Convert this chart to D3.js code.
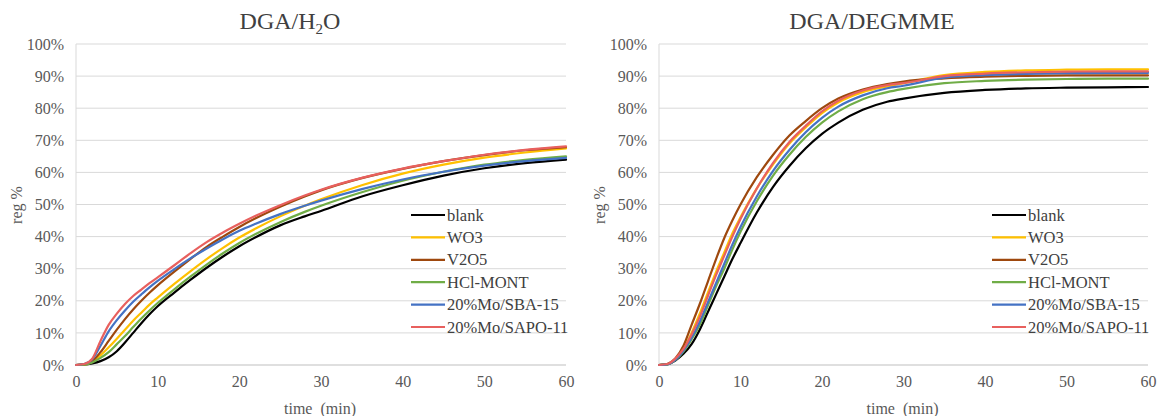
<!DOCTYPE html>
<html>
<head>
<meta charset="utf-8">
<script src="https://cdn.jsdelivr.net/npm/d3@7/dist/d3.min.js"></script>
<style>
  html, body { margin: 0; padding: 0; background: #fff; }
  svg { display: block; }
  svg text { font-family: "Liberation Serif", "Times New Roman", Times, "Nimbus Roman", "DejaVu Serif", serif !important; }
</style>
</head>
<body>
<svg id="chart" width="1158" height="416"></svg>
<script>
// ---------- data ----------
const times = [0, 1, 2, 3, 4, 5, 6, 7, 8, 9, 10, 12, 14, 16, 18, 20, 22, 25, 28, 30, 35, 40, 45, 50, 55, 60];

const seriesNames = ["blank", "WO3", "V2O5", "HCl-MONT", "20%Mo/SBA-15", "20%Mo/SAPO-11"];
const seriesColors = ["#000000", "#FFC000", "#9E480E", "#70AD47", "#4472C4", "#E8605E"];

// DGA/H2O (values in %)
const h2oBlank = [0, 0.1, 0.5, 1.2, 2.4, 4.3, 7, 10, 13, 15.8, 18.3, 22.5, 26.5, 30.3, 33.8, 37, 39.8, 43.5, 46.3, 48, 52.5, 56, 59, 61.3, 62.9, 64];
const h2oWO3 = [0, 0.1, 1, 3, 5.5, 8.2, 11, 13.8, 16.3, 18.8, 21, 25.2, 29.2, 33, 36.5, 39.7, 42.5, 46.3, 49.6, 51.6, 56, 59.6, 62.4, 64.6, 66.2, 67.5];
const h2oV2O5 = [0, 0.2, 1.2, 4, 7.5, 11, 14.3, 17.3, 20, 22.5, 24.8, 29, 33, 36.8, 40, 43, 45.7, 49.3, 52.5, 54.4, 58.2, 61.1, 63.5, 65.4, 66.9, 67.9];
const h2oHCl = [0, 0.1, 0.8, 2.2, 4, 6.5, 9, 11.8, 14.5, 17, 19.3, 23.5, 27.5, 31.3, 34.8, 38, 40.8, 44.5, 47.7, 49.6, 53.8, 57.4, 60.2, 62.4, 63.9, 65];
const h2oSBA = [0, 0.3, 1.8, 6, 10.5, 14, 17, 19.7, 22, 24.2, 26.2, 29.8, 33.2, 36.3, 39.2, 41.8, 44, 47, 49.6, 51.2, 54.8, 57.8, 60.2, 62.1, 63.5, 64.5];
const h2oSAPO = [0, 0.3, 2, 7.5, 12.5, 16, 19, 21.5, 23.5, 25.5, 27.3, 31, 34.8, 38.3, 41.3, 44, 46.5, 49.8, 52.8, 54.6, 58.3, 61.2, 63.5, 65.5, 67, 68.1];

// DGA/DEGMME (values in %)
const degBlank = [0, 0.2, 1.4, 3.5, 6.5, 11, 16.5, 22, 27.5, 33, 38, 47.5, 55.5, 62, 67.5, 72, 75.5, 79.5, 82, 83, 84.8, 85.7, 86.2, 86.4, 86.5, 86.6];
const degWO3 = [0, 0.2, 1.8, 5, 10, 16, 22.5, 29, 35, 41, 46, 55, 62.5, 69, 74, 78.5, 81.8, 85, 86.8, 87.8, 90.3, 91.3, 91.8, 92, 92.1, 92.1];
const degV2O5 = [0, 0.3, 2, 6, 12.5, 19, 26, 33, 39.5, 45, 50, 58.5, 65.5, 71.5, 76, 80, 83, 85.8, 87.5, 88.3, 89.3, 89.8, 90.1, 90.2, 90.2, 90.2];
const degHCl = [0, 0.2, 1.5, 4.2, 8, 12.5, 18.5, 24.5, 30, 36, 41.5, 51, 59, 65.5, 71, 75.5, 79, 82.8, 85, 86, 87.8, 88.5, 88.9, 89.1, 89.2, 89.2];
const degSBA = [0, 0.2, 1.6, 4.5, 8.5, 13.5, 19.5, 25.5, 31.5, 37.5, 43, 52.5, 60.5, 67, 72.5, 77, 80.5, 84, 86.2, 87, 89.5, 90.3, 90.7, 90.9, 91, 91];
const degSAPO = [0, 0.3, 2, 5, 9.5, 15, 21.5, 28, 34, 40, 45.5, 55, 63, 69.5, 74.5, 79, 82.3, 85.5, 87.2, 87.8, 90, 90.8, 91.2, 91.4, 91.5, 91.5];

const yTicks = [0, 10, 20, 30, 40, 50, 60, 70, 80, 90, 100];
const xTicks = [0, 10, 20, 30, 40, 50, 60];

const panels = [
  { title: "DGA/H2O", series: [h2oBlank, h2oWO3, h2oV2O5, h2oHCl, h2oSBA, h2oSAPO],
    x0: 76, x1: 566, legendX: 411, yLabelX: 17, yTickX: 64 },
  { title: "DGA/DEGMME", series: [degBlank, degWO3, degV2O5, degHCl, degSBA, degSAPO],
    x0: 659, x1: 1148, legendX: 992, yLabelX: 600, yTickX: 647 }
];

const FONT = '"Liberation Serif", "Times New Roman", Times, "Nimbus Roman", "DejaVu Serif", serif';

// ---------- drawing ----------
const svg = d3.select("#chart");
const yTop = 44, yBottom = 365;

panels.forEach(p => {
  const x = d3.scaleLinear().domain([0, 60]).range([p.x0, p.x1]);
  const y = d3.scaleLinear().domain([0, 100]).range([yBottom, yTop]);
  const g = svg.append("g").attr("font-family", FONT);

  // gridlines
  g.selectAll("line.grid").data(yTicks).enter().append("line")
    .attr("x1", p.x0).attr("x2", p.x1)
    .attr("y1", d => y(d)).attr("y2", d => y(d))
    .attr("stroke", d => d === 0 ? "#bfbfbf" : "#d9d9d9").attr("stroke-width", 1);
  // vertical axis line
  g.append("line").attr("x1", p.x0).attr("x2", p.x0).attr("y1", yTop).attr("y2", yBottom)
    .attr("stroke", "#d9d9d9").attr("stroke-width", 1);

  // y tick labels via axis
  const yAxis = d3.axisLeft(y).tickValues(yTicks).tickFormat(d => d + "%").tickSize(0).tickPadding(0);
  const ya = g.append("g").attr("transform", `translate(${p.yTickX},0)`).call(yAxis);
  ya.attr("font-family", FONT);
  ya.select(".domain").remove();
  ya.selectAll("text").attr("font-size", 16).attr("fill", "#595959").style("font-family", FONT);

  // x tick labels via axis
  const xAxis = d3.axisBottom(x).tickValues(xTicks).tickSize(0).tickPadding(0);
  const xa = g.append("g").attr("transform", `translate(0,${yBottom + 11})`).call(xAxis);
  xa.attr("font-family", FONT);
  xa.select(".domain").remove();
  xa.selectAll("text").attr("font-size", 16).attr("fill", "#595959").style("font-family", FONT);

  // lines
  const line = d3.line().x((d, i) => x(times[i])).y(d => y(d)).curve(d3.curveMonotoneX);
  p.series.forEach((s, i) => {
    g.append("path").datum(s).attr("d", line)
      .attr("fill", "none").attr("stroke", seriesColors[i]).attr("stroke-width", 2.2)
      .attr("stroke-linejoin", "round").attr("stroke-linecap", "round");
  });

  // title
  const t = g.append("text").attr("y", 29).attr("text-anchor", "middle")
    .attr("font-size", 24).attr("fill", "#404040").style("font-family", FONT);
  if (p.title === "DGA/H2O") {
    t.attr("x", 290);
    t.append("tspan").text("DGA/H");
    t.append("tspan").text("2").attr("font-size", 15).attr("dy", 5);
    t.append("tspan").text("O").attr("dy", -5);
  } else {
    t.attr("x", 872).text(p.title);
  }

  // axis titles
  g.append("text").attr("x", (p.x0 + p.x1) / 2 - 1).attr("y", 414).attr("text-anchor", "middle")
    .attr("font-size", 16).attr("fill", "#595959").style("font-family", FONT).text("time\u00a0\u00a0(min)");
  g.append("text").attr("transform", `translate(${p.yLabelX + 5},${205}) rotate(-90)`)
    .attr("text-anchor", "middle").attr("font-size", 16).attr("fill", "#595959")
    .style("font-family", FONT).text("reg %");

  // legend
  const lg = g.append("g");
  seriesNames.forEach((n, i) => {
    const ly = 215 + i * 22.4;
    lg.append("line").attr("x1", p.legendX).attr("x2", p.legendX + 34)
      .attr("y1", ly).attr("y2", ly).attr("stroke", seriesColors[i]).attr("stroke-width", 2.2);
    lg.append("text").attr("x", p.legendX + 36).attr("y", ly + 5.5)
      .attr("font-size", 16.5).attr("fill", "#404040").style("font-family", FONT).text(n);
  });
});
</script>
</body>
</html>
